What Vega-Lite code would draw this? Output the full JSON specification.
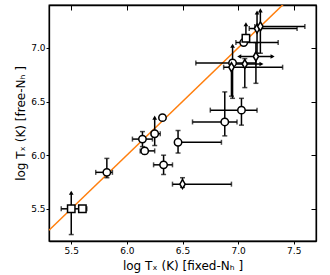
{
  "$schema": "https://vega.github.io/schema/vega-lite/v6.json",
  "width": 267,
  "height": 236,
  "autosize": {"type": "none"},
  "padding": {"left": 49, "top": 5, "right": 14, "bottom": 34},
  "background": "white",
  "config": {
    "view": {"stroke": "black", "strokeWidth": 1.3},
    "axis": {
      "grid": false,
      "domainColor": "black",
      "domainWidth": 1.3,
      "tickColor": "black",
      "tickWidth": 1,
      "labelFont": "DejaVu Sans",
      "labelFontSize": 9,
      "labelColor": "black",
      "titleFont": "DejaVu Sans",
      "titleFontSize": 12,
      "titleFontWeight": "normal",
      "titleColor": "black"
    }
  },
  "datasets": {
    "one2one": [{"x": 5.3, "y": 5.3}, {"x": 7.7, "y": 7.7}],
    "pts": [
      {"s": "square", "x": 5.50, "y": 5.50, "xlo": 5.41, "xhi": 5.57, "ylo": 5.26, "yhi": 5.65, "up": true},
      {"s": "square", "x": 5.60, "y": 5.50, "xlo": 5.57, "xhi": 5.64, "ylo": null, "yhi": null},
      {"s": "circle", "x": 5.82, "y": 5.84, "xlo": 5.72, "xhi": 5.87, "ylo": 5.79, "yhi": 5.97},
      {"s": "circle", "x": 6.14, "y": 6.15, "xlo": 6.05, "xhi": 6.23, "ylo": 6.08, "yhi": 6.22},
      {"s": "circle", "x": 6.16, "y": 6.04, "xlo": 6.12, "xhi": 6.25, "ylo": 6.01, "yhi": 6.07},
      {"s": "circle", "x": 6.25, "y": 6.20, "xlo": 6.22, "xhi": 6.30, "ylo": 6.09, "yhi": 6.35, "up": true},
      {"s": "circle", "x": 6.32, "y": 6.35, "xlo": null, "xhi": null, "ylo": null, "yhi": null},
      {"s": "circle", "x": 6.46, "y": 6.12, "xlo": 6.43, "xhi": 6.85, "ylo": 6.02, "yhi": 6.23},
      {"s": "circle", "x": 6.33, "y": 5.91, "xlo": 6.24, "xhi": 6.41, "ylo": 5.82, "yhi": 6.00},
      {"s": "diamond", "x": 6.50, "y": 5.73, "xlo": 6.41, "xhi": 6.94, "ylo": 5.70, "yhi": 5.79},
      {"s": "circle", "x": 6.88, "y": 6.31, "xlo": 6.59, "xhi": 6.99, "ylo": 6.18, "yhi": 6.59},
      {"s": "circle", "x": 7.03, "y": 6.42, "xlo": 6.75, "xhi": 7.17, "ylo": 6.28, "yhi": 6.53},
      {"s": "diamond", "x": 6.94, "y": 6.82, "xlo": 6.87, "xhi": 7.40, "ylo": 6.55, "yhi": 6.86},
      {"s": "circle", "x": 6.95, "y": 6.86, "xlo": 6.62, "xhi": 7.16, "ylo": 6.53, "yhi": 7.02, "up": true},
      {"s": "diamond", "x": 7.06, "y": 6.85, "xlo": 6.95, "xhi": 7.21, "ylo": 6.63, "yhi": 6.90, "rt": true},
      {"s": "diamond", "x": 7.16, "y": 6.92, "xlo": 7.01, "xhi": 7.31, "ylo": 6.67, "yhi": 7.05, "lt": true, "rt": true},
      {"s": "circle", "x": 7.05, "y": 7.05, "xlo": 6.98, "xhi": 7.36, "ylo": null, "yhi": null},
      {"s": "square", "x": 7.07, "y": 7.09, "xlo": null, "xhi": null, "ylo": 7.09, "yhi": 7.22, "up": true},
      {"s": "diamond", "x": 7.17, "y": 7.18, "xlo": 7.10, "xhi": 7.53, "ylo": 6.95, "yhi": 7.33, "up": true},
      {"s": "diamond", "x": 7.20, "y": 7.20, "xlo": 7.15, "xhi": 7.60, "ylo": 6.95, "yhi": 7.35, "up": true}
    ]
  },
  "resolve": {"axis": {"x": "independent", "y": "independent"}},
  "layer": [
    {
      "data": {"name": "one2one"},
      "mark": {"type": "line", "color": "#ff7f0e", "strokeWidth": 1.5, "clip": true},
      "encoding": {
        "x": {"field": "x", "type": "quantitative", "scale": {"domain": [5.3, 7.7], "nice": false, "zero": false},
          "axis": {"orient": "bottom", "values": [5.5, 6.0, 6.5, 7.0, 7.5], "format": ".1f", "tickSize": 3, "labelPadding": 2, "title": "log Tₓ  (K) [fixed-Nₕ ]", "titlePadding": 5}},
        "y": {"field": "y", "type": "quantitative", "scale": {"domain": [5.2, 7.4], "nice": false, "zero": false},
          "axis": {"orient": "left", "values": [5.5, 6.0, 6.5, 7.0], "format": ".1f", "tickSize": 3, "labelPadding": 1, "title": "log Tₓ  (K) [free-Nₕ ]", "titlePadding": 3}}
      }
    },
    {
      "data": {"name": "pts"},
      "transform": [{"filter": "datum.xlo != null"}],
      "mark": {"type": "rule", "color": "black", "strokeWidth": 1.5},
      "encoding": {
        "x": {"field": "xlo", "type": "quantitative", "axis": null},
        "x2": {"field": "xhi"},
        "y": {"field": "y", "type": "quantitative", "axis": null}
      }
    },
    {
      "data": {"name": "pts"},
      "transform": [{"filter": "datum.ylo != null"}],
      "mark": {"type": "rule", "color": "black", "strokeWidth": 1.5},
      "encoding": {
        "x": {"field": "x", "type": "quantitative", "axis": null},
        "y": {"field": "ylo", "type": "quantitative", "axis": null},
        "y2": {"field": "yhi"}
      }
    },
    {
      "data": {"name": "pts"},
      "transform": [{"filter": "datum.xlo != null && !datum.lt"}],
      "mark": {"type": "tick", "orient": "vertical", "color": "black", "size": 5, "thickness": 1.5},
      "encoding": {
        "x": {"field": "xlo", "type": "quantitative", "axis": null},
        "y": {"field": "y", "type": "quantitative", "axis": null}
      }
    },
    {
      "data": {"name": "pts"},
      "transform": [{"filter": "datum.xhi != null && !datum.rt"}],
      "mark": {"type": "tick", "orient": "vertical", "color": "black", "size": 5, "thickness": 1.5},
      "encoding": {
        "x": {"field": "xhi", "type": "quantitative", "axis": null},
        "y": {"field": "y", "type": "quantitative", "axis": null}
      }
    },
    {
      "data": {"name": "pts"},
      "transform": [{"filter": "datum.ylo != null"}],
      "mark": {"type": "tick", "orient": "horizontal", "color": "black", "size": 5, "thickness": 1.5},
      "encoding": {
        "x": {"field": "x", "type": "quantitative", "axis": null},
        "y": {"field": "ylo", "type": "quantitative", "axis": null}
      }
    },
    {
      "data": {"name": "pts"},
      "transform": [{"filter": "datum.yhi != null && !datum.up"}],
      "mark": {"type": "tick", "orient": "horizontal", "color": "black", "size": 5, "thickness": 1.5},
      "encoding": {
        "x": {"field": "x", "type": "quantitative", "axis": null},
        "y": {"field": "yhi", "type": "quantitative", "axis": null}
      }
    },
    {
      "data": {"name": "pts"},
      "transform": [{"filter": "datum.up"}],
      "mark": {"type": "point", "shape": "triangle-up", "filled": true, "color": "black", "size": 22, "opacity": 1},
      "encoding": {
        "x": {"field": "x", "type": "quantitative", "axis": null},
        "y": {"field": "yhi", "type": "quantitative", "axis": null}
      }
    },
    {
      "data": {"name": "pts"},
      "transform": [{"filter": "datum.rt"}],
      "mark": {"type": "point", "shape": "triangle-right", "filled": true, "color": "black", "size": 22, "opacity": 1},
      "encoding": {
        "x": {"field": "xhi", "type": "quantitative", "axis": null},
        "y": {"field": "y", "type": "quantitative", "axis": null}
      }
    },
    {
      "data": {"name": "pts"},
      "transform": [{"filter": "datum.lt"}],
      "mark": {"type": "point", "shape": "triangle-left", "filled": true, "color": "black", "size": 22, "opacity": 1},
      "encoding": {
        "x": {"field": "xlo", "type": "quantitative", "axis": null},
        "y": {"field": "y", "type": "quantitative", "axis": null}
      }
    },
    {
      "data": {"name": "pts"},
      "transform": [{"filter": "datum.s != 'diamond'"}],
      "mark": {"type": "point", "filled": true, "fill": "white", "stroke": "black", "strokeWidth": 1.5, "opacity": 1, "size": 55},
      "encoding": {
        "x": {"field": "x", "type": "quantitative", "axis": null},
        "y": {"field": "y", "type": "quantitative", "axis": null},
        "shape": {"field": "s", "type": "nominal", "legend": null,
          "scale": {"domain": ["circle", "square"], "range": ["circle", "square"]}}
      }
    },
    {
      "data": {"name": "pts"},
      "transform": [{"filter": "datum.s == 'diamond'"}],
      "mark": {"type": "point", "filled": true, "fill": "white", "stroke": "black", "strokeWidth": 1.5, "opacity": 1, "size": 80, "shape": "M0,-1L0.6,0L0,1L-0.6,0Z"},
      "encoding": {
        "x": {"field": "x", "type": "quantitative", "axis": {"orient": "top", "values": [5.5, 6.0, 6.5, 7.0, 7.5], "labels": false, "title": null, "tickSize": -5}},
        "y": {"field": "y", "type": "quantitative", "axis": {"orient": "right", "values": [5.5, 6.0, 6.5, 7.0], "labels": false, "title": null, "tickSize": -5}}
      }
    }
  ]
}
